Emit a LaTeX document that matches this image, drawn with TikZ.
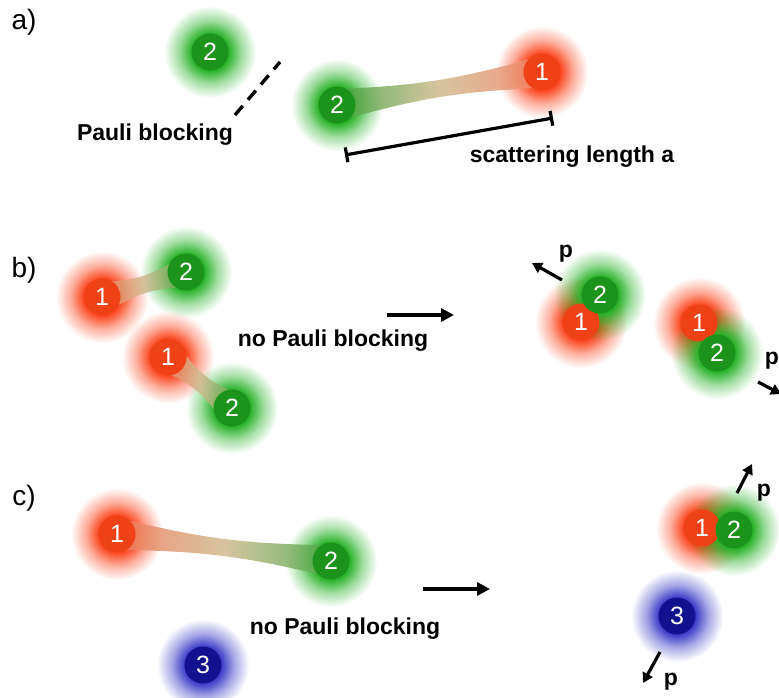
\documentclass[tikz,border=0pt]{standalone}
\usepackage{fontspec}
\setmainfont{Liberation Sans}
\usetikzlibrary{arrows.meta,calc,fadings}

\definecolor{pgreen}{RGB}{28,148,28}
\definecolor{pred}{RGB}{238,66,22}
\definecolor{pblue}{RGB}{18,18,142}
\definecolor{gglow}{RGB}{40,178,40}
\definecolor{rglow}{RGB}{250,72,32}
\definecolor{bglow}{RGB}{60,60,200}
\definecolor{bandmid}{RGB}{208,186,142}

% soft halo round each particle
\pgfdeclareradialshading{glowmask}{\pgfpointorigin}{color(0bp)=(white); color(10bp)=(white); color(17bp)=(white!45!black); color(25bp)=(black); color(50bp)=(black)}
\pgfdeclarefading{glowfade}{\pgfuseshading{glowmask}}

\pgfdeclarelayer{glow}
\pgfdeclarelayer{bond}
\pgfsetlayers{glow,bond,main}

\begin{document}
\begin{tikzpicture}[x=1pt, y=-1pt,
    part/.style={circle, minimum size=37pt, inner sep=0pt, text=white,
      font=\fontsize{25}{25}\selectfont},
    lbl/.style={font=\fontsize{23}{27}\selectfont\bfseries},
    tag/.style={font=\fontsize{28}{32}\selectfont},
    go/.style={line width=3.6pt, -{Triangle[length=13pt,width=13pt]}},
    mom/.style={line width=3.2pt, -{Triangle[length=10pt,width=11pt]}},
    link/.style={opacity=0.85, to path={
      ($(\tikztostart.center)!16pt!90:(\tikztotarget.center)$)
      .. controls ($(\tikztostart.center)!0.4!(\tikztotarget.center)!6pt!90:(\tikztotarget.center)$)
      and ($(\tikztostart.center)!0.6!(\tikztotarget.center)!6pt!90:(\tikztotarget.center)$)
      .. ($(\tikztotarget.center)!16pt!-90:(\tikztostart.center)$)
      -- ($(\tikztotarget.center)!16pt!90:(\tikztostart.center)$)
      .. controls ($(\tikztostart.center)!0.6!(\tikztotarget.center)!6pt!-90:(\tikztotarget.center)$)
      and ($(\tikztostart.center)!0.4!(\tikztotarget.center)!6pt!-90:(\tikztotarget.center)$)
      .. ($(\tikztostart.center)!16pt!-90:(\tikztotarget.center)$) -- cycle}}]
  \useasboundingbox (0,0) rectangle (779,697);

  % a)
  \node[tag] (ta) at (24,22) {a)};
  \node[part, fill=pgreen] (a2x) at (210,52) {2};
  \node[part, fill=pred] (a1) at (542,72) {1};
  \node[part, fill=pgreen] (a2) at (337,105) {2};
  \node[lbl] (pauli) at (155,135) {Pauli blocking};
  \coordinate (d1) at (235,115);
  \coordinate (d2) at (280,62);
  \draw[line width=3.4pt, dash pattern=on 12pt off 8pt] (d1) -- (d2);
  \coordinate (s1) at (345,155);
  \coordinate (s2) at (553,118);
  \draw[line width=3.2pt, {Bar[width=15pt]}-{Bar[width=15pt]}] (s1) -- (s2);
  \node[lbl] (scat) at (572,157) {scattering length a};

  % b)
  \node[tag] (tb) at (24,270) {b)};
  \node[part, fill=pred] (b1) at (102,297) {1};
  \node[part, fill=pgreen] (b2) at (186,272) {2};
  \node[part, fill=pred] (b3) at (168,357) {1};
  \node[part, fill=pgreen] (b4) at (232,408) {2};
  \coordinate (g1) at (387,315);
  \coordinate (g2) at (454,315);
  \draw[go] (g1) -- (g2);
  \node[lbl] (nob) at (333,341) {no Pauli blocking};
  \node[part, fill=pred] (b5) at (581,322) {1};
  \node[part, fill=pgreen] (b6) at (600,295) {2};
  \node[part, fill=pred] (b7) at (699,323) {1};
  \node[part, fill=pgreen] (b8) at (717,353) {2};
  \coordinate (m1) at (562,280);
  \coordinate (m2) at (532,263);
  \draw[mom] (m1) -- (m2);
  \node[lbl] (pb1) at (566,254) {p};
  \coordinate (m3) at (758,382);
  \coordinate (m4) at (781,394);
  \draw[mom] (m3) -- (m4);
  \node[lbl] (pb2) at (772,361) {p};

  % c)
  \node[tag] (tc) at (24,498) {c)};
  \node[part, fill=pred] (c1) at (117,534) {1};
  \node[part, fill=pgreen] (c2) at (331,561) {2};
  \node[part, fill=pblue] (c3) at (203,665) {3};
  \coordinate (g3) at (423,589);
  \coordinate (g4) at (490,589);
  \draw[go] (g3) -- (g4);
  \node[lbl] (noc) at (345,629) {no Pauli blocking};
  \node[part, fill=pred] (c4) at (702,528) {1};
  \node[part, fill=pgreen] (c5) at (734,530) {2};
  \node[part, fill=pblue] (c6) at (677,616) {3};
  \coordinate (m5) at (737,493);
  \coordinate (m6) at (752,464);
  \draw[mom] (m5) -- (m6);
  \node[lbl] (pc1) at (764,493) {p};
  \coordinate (m7) at (660,652);
  \coordinate (m8) at (643,683);
  \draw[mom] (m7) -- (m8);
  \node[lbl] (pc2) at (671,682) {p};

  % halos
  \begin{pgfonlayer}{glow}
    \foreach \n/\col in {a2x/gglow, a2/gglow, a1/rglow,
        b1/rglow, b2/gglow, b3/rglow, b4/gglow, b5/rglow, b6/gglow, b7/rglow, b8/gglow,
        c1/rglow, c2/gglow, c3/bglow, c4/rglow, c5/gglow, c6/bglow}
      \fill[\col, path fading=glowfade] (\n.center) circle (46);
  \end{pgfonlayer}

  % bonds between the pairs
  \begin{pgfonlayer}{bond}
    \shade[link, left color=pgreen!85, right color=pred!65, middle color=bandmid] (a2) to (a1);
    \shade[link, left color=pred!70, right color=pgreen!80, middle color=bandmid] (b1) to (b2);
    \shade[link, left color=pred!70, right color=pgreen!80, middle color=bandmid] (b3) to (b4);
    \shade[link, left color=pred!70, right color=pgreen!80, middle color=bandmid] (c1) to (c2);
  \end{pgfonlayer}
\end{tikzpicture}
\end{document}
